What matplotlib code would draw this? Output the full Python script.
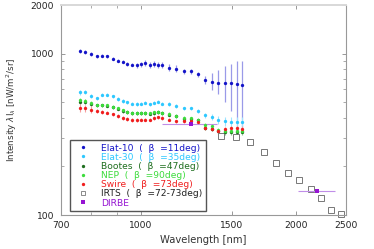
import numpy as np
import matplotlib
matplotlib.use("Agg")
import matplotlib.pyplot as plt
from matplotlib.lines import Line2D
from matplotlib.ticker import FixedLocator, NullFormatter, FixedFormatter

# wavelength grid of the spectra [nm]
wl = [762, 780, 800, 821, 841, 861, 882, 902, 922, 941, 961, 982, 1002, 1020, 1040,
      1060, 1081, 1099, 1132, 1170, 1212, 1250, 1291, 1330, 1372, 1411, 1454, 1496, 1535, 1572]

elat10 = [1039, 1025, 993, 963, 972, 962, 928, 906, 892, 864, 855, 845, 859, 871, 852,
          860, 855, 852, 818, 808, 777, 777, 745, 688, 672, 655, 660, 656, 653, 641]
elat10_lo = [30, 30, 25, 20, 20, 20, 20, 20, 20, 20, 20, 35, 35, 38, 38,
             38, 38, 38, 40, 40, 30, 28, 25, 38, 80, 90, 160, 215, 360, 320]
elat10_hi = [30, 30, 25, 20, 20, 20, 20, 20, 20, 20, 20, 35, 35, 38, 38,
             38, 38, 38, 40, 40, 30, 28, 25, 36, 84, 140, 175, 210, 245, 265]

elat30 = [576, 579, 549, 530, 556, 556, 543, 524, 509, 500, 490, 489, 490, 497, 486,
          498, 505, 491, 489, 473, 458, 458, 439, 414, 404, 386, 380, 377, 375, 375]
elat30_err = [20, 20, 15, 12, 12, 12, 12, 12, 12, 12, 12, 12, 12, 12, 12,
              12, 12, 12, 12, 12, 12, 12, 12, 15, 18, 22, 25, 28, 28, 30]

bootes = [503, 505, 488, 478, 478, 477, 466, 455, 441, 433, 426, 426, 426, 428, 425,
          428, 434, 428, 419, 409, 396, 393, 386, 348, 342, 330, 326, 327, 328, 326]
nep = [513, 511, 495, 481, 481, 481, 470, 459, 445, 437, 429, 429, 429, 431, 428,
       432, 437, 431, 423, 413, 399, 397, 390, 361, 354, 335, 331, 332, 332, 330]
green_err = [15, 15, 12, 10, 10, 10, 10, 10, 10, 10, 10, 10, 10, 10, 10,
             10, 10, 10, 10, 10, 10, 10, 10, 10, 10, 12, 12, 12, 12, 12]

swire = [461, 459, 450, 440, 435, 431, 420, 410, 400, 393, 387, 389, 390, 390, 390,
         399, 403, 398, 390, 380, 383, 385, 375, 346, 341, 330, 341, 346, 344, 342]
swire_err = [25, 25, 23, 12, 10, 10, 10, 10, 10, 10, 10, 10, 10, 10, 10,
             10, 10, 10, 10, 10, 10, 10, 10, 10, 10, 12, 12, 12, 12, 12]

irts_wl = [1430, 1530, 1630, 1730, 1830, 1930, 2030, 2140, 2240, 2340, 2440]
irts = [309, 304, 282, 246, 210, 183, 165, 145, 128, 108, 101]

dirbe_wl = [1250, 2200]
dirbe = [366, 140]
dirbe_xlo = [151, 180]
dirbe_xhi = [158, 184]

labels = ["Elat-10  (  β  =11deg)", "Elat-30  (  β  =35deg)",
          "Bootes  (  β  =47deg)", "NEP  (  β  =90deg)",
          "Swire  (  β  =73deg)", "IRTS  (  β  =72-73deg)", "DIRBE"]

c_blue, c_cyan, c_dgreen, c_green, c_red = "#1414c8", "#2ec8ff", "#1e6e1e", "#3cdc3c", "#f01e1e"
c_purple, c_gray = "#9614d2", "#777777"

fig = plt.figure(figsize=(3.74, 2.49), dpi=100)
ax = fig.add_axes([0.163, 0.1365, 0.762, 0.843])

ms = 2.4
ax.errorbar(wl, elat10, yerr=[elat10_lo, elat10_hi], fmt="o", ms=ms, color=c_blue,
            ecolor="#9a9ae8", elinewidth=0.9, capsize=1.5, capthick=0.7, mew=0)
ax.errorbar(wl, elat30, yerr=elat30_err, fmt="o", ms=ms, color=c_cyan,
            ecolor="#a0e4ff", elinewidth=0.8, capsize=1.2, capthick=0.6, mew=0)
ax.errorbar(wl, bootes, yerr=green_err, fmt="o", ms=ms, color=c_dgreen,
            ecolor="#8fb88f", elinewidth=0.8, capsize=1.2, capthick=0.6, mew=0)
ax.errorbar(wl, nep, yerr=green_err, fmt="o", ms=ms, color=c_green,
            ecolor="#a8eea8", elinewidth=0.8, capsize=1.2, capthick=0.6, mew=0)
ax.errorbar(wl, swire, yerr=swire_err, fmt="o", ms=ms, color=c_red,
            ecolor="#f5a0a0", elinewidth=0.8, capsize=1.2, capthick=0.6, mew=0)
ax.plot(irts_wl, irts, "s", ms=4, mfc="white", mec=c_gray, mew=0.7, clip_on=False)
ax.errorbar(dirbe_wl, dirbe, xerr=[dirbe_xlo, dirbe_xhi], fmt="s", ms=3.5, color=c_purple,
            ecolor="#c08ee8", elinewidth=0.8, capsize=0, mew=0)

ax.set_xscale("log")
ax.set_yscale("log")
ax.set_xlim(700, 2500)
ax.set_ylim(100, 2000)

ax.xaxis.set_major_locator(FixedLocator([700, 1000, 1500, 2000, 2500]))
ax.xaxis.set_major_formatter(FixedFormatter(["700", "1000", "1500", "2000", "2500"]))
ax.xaxis.set_minor_locator(FixedLocator([800, 900]))
ax.xaxis.set_minor_formatter(NullFormatter())
ax.yaxis.set_major_locator(FixedLocator([100, 1000, 2000]))
ax.yaxis.set_major_formatter(FixedFormatter(["100", "1000", "2000"]))
ax.yaxis.set_minor_locator(FixedLocator([200, 300, 400, 500, 600, 700, 800, 900]))
ax.yaxis.set_minor_formatter(NullFormatter())

ax.tick_params(which="both", direction="in", top=True, right=True, colors="#888888",
               labelcolor="#222222", labelsize=6.6)
ax.tick_params(axis="x", pad=4)
ax.tick_params(axis="y", pad=5)
ax.tick_params(which="major", length=3, width=0.6)
ax.tick_params(which="minor", length=2, width=0.5)
for side in ["left", "bottom", "right"]:
    ax.spines[side].set_color("#999999")
    ax.spines[side].set_linewidth(0.8)
ax.spines["top"].set_color("#d8d8d8")
ax.spines["top"].set_linewidth(1.4)

ax.set_xlabel("Wavelength [nm]", fontsize=7.2, color="#333333", labelpad=4)
ax.set_ylabel("Intensity $\\lambda$I$_\\lambda$ [nW/m$^2$/sr]", fontsize=6.3,
              color="#333333", labelpad=8)

handles = [
    Line2D([], [], ls="", marker="o", ms=2.4, mew=0, color=c_blue),
    Line2D([], [], ls="", marker="o", ms=2.4, mew=0, color=c_cyan),
    Line2D([], [], ls="", marker="o", ms=2.4, mew=0, color=c_dgreen),
    Line2D([], [], ls="", marker="o", ms=2.4, mew=0, color=c_green),
    Line2D([], [], ls="", marker="o", ms=2.4, mew=0, color=c_red),
    Line2D([], [], ls="", marker="s", ms=3.2, mfc="white", mec=c_gray, mew=0.6),
    Line2D([], [], ls="", marker="s", ms=3.2, mew=0, color=c_purple),
]
leg = ax.legend(handles, labels, loc="lower left", bbox_to_anchor=(0.03, 0.02),
                prop={"family": "DejaVu Sans", "size": 6.6},
                labelcolor=[c_blue, c_cyan, c_dgreen, c_green, c_red, "#222222", c_purple],
                frameon=True, fancybox=False, edgecolor="#555555", framealpha=1,
                borderpad=0.35, borderaxespad=0, labelspacing=0.02,
                handletextpad=0.9, handlelength=2.2)
leg.get_frame().set_linewidth(1.0)

fig.savefig("out.png", dpi=100)
